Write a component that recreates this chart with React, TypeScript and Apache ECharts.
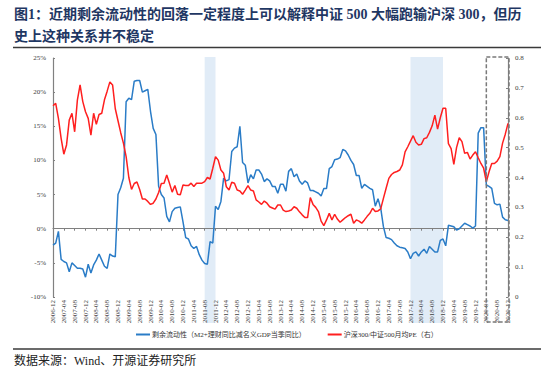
import React, { useEffect, useRef } from "react";
import * as echarts from "echarts";

// Monthly categories 2006-12 .. 2020-12
const months: string[] = [];
for (let y = 2006, m = 12; y < 2021; ) {
  months.push(`${y}-${String(m).padStart(2, "0")}`);
  m += 1;
  if (m > 12) { m = 1; y += 1; }
  if (y === 2021) break;
}

const seriesNames = [
  "剩余流动性（M2+理财同比减名义GDP当季同比）",
  "沪深300/中证500月均PE（右）",
];

// Excess liquidity, % (left axis)
const liquidity: number[] = [
  -2.4, -2.1, -0.4, -4.5, -4.8, -5.0, -6.3, -5.0, -5.4, -5.8,
  -5.8, -5.9, -7.1, -5.2, -6.5, -5.3, -4.6, -3.7, -4.6, -5.5,
  -5.8, -3.7, -4.0, -4.1, 5.0, 6.0, 7.4, 18.6, 19.1, 18.9,
  21.6, 21.7, 21.7, 20.0, 20.2, 20.4, 17.2, 14.7, 13.8, 6.2,
  5.0, 4.5, 1.8, 1.0, 2.5, 3.0, 3.1, 3.2, 1.0, -1.3,
  -1.5, -2.5, -2.9, -2.6, -3.8, -4.6, -5.1, -5.2, -1.9, -2.1,
  3.3, 2.8, 4.0, 7.4, 7.0, 7.2, 11.3, 11.8, 12.0, 15.0,
  9.7, 9.3, 6.7, 7.9, 7.3, 8.6, 8.6, 8.0, 6.9, 7.3,
  7.0, 6.2, 6.2, 5.2, 6.5, 6.5, 5.5, 8.4, 8.8, 7.6,
  8.0, 7.0, 6.5, 7.0, 6.7, 5.6, 5.6, 5.4, 5.2, 4.8,
  5.9, 5.9, 8.8, 9.1, 10.1, 10.2, 10.4, 11.6, 11.4, 10.8,
  10.0, 9.4, 7.8, 7.8, 5.9, 6.5, 6.2, 5.9, 5.7, 3.3,
  4.4, 3.0, 0.3, -1.3, -1.4, -1.6, -2.1, -2.5, -2.7, -2.8,
  -2.9, -3.4, -4.4, -3.6, -3.4, -4.0, -3.4, -3.0, -3.6, -2.6,
  -3.0, -3.4, -3.4, -1.7, -1.5, -2.5, 0.5, 0.4, 0.3, -0.2,
  0.0, 0.4, 0.8, 0.6, 0.4, 0.1, 0.4, 14.0, 14.8, 14.8,
  6.4, 6.2, 5.9, 3.7, 3.5, 3.6, 1.7, 1.3, 1.2,
];

// HS300 / CSI500 PE ratio (right axis)
const peRatio: number[] = [
  0.640, 0.648, 0.598, 0.531, 0.478, 0.509, 0.592, 0.615, 0.553, 0.659,
  0.710, 0.654, 0.620, 0.598, 0.542, 0.615, 0.578, 0.611, 0.615, 0.660,
  0.689, 0.720, 0.710, 0.630, 0.590, 0.550, 0.515, 0.470, 0.400, 0.360,
  0.380, 0.385, 0.360, 0.328, 0.328, 0.320, 0.310, 0.314, 0.328, 0.350,
  0.380, 0.381, 0.408, 0.381, 0.351, 0.373, 0.344, 0.342, 0.375, 0.373,
  0.373, 0.381, 0.370, 0.381, 0.381, 0.381, 0.386, 0.400, 0.395, 0.431,
  0.470, 0.458, 0.425, 0.414, 0.369, 0.358, 0.384, 0.381, 0.358, 0.355,
  0.344, 0.358, 0.373, 0.358, 0.355, 0.325, 0.318, 0.310, 0.321, 0.314,
  0.302, 0.298, 0.294, 0.308, 0.308, 0.291, 0.286, 0.288, 0.291, 0.302,
  0.297, 0.285, 0.275, 0.266, 0.266, 0.333, 0.310, 0.300, 0.286, 0.254,
  0.239, 0.258, 0.280, 0.258, 0.277, 0.261, 0.250, 0.258, 0.266, 0.272,
  0.277, 0.247, 0.258, 0.254, 0.247, 0.258, 0.270, 0.280, 0.297, 0.286,
  0.288, 0.295, 0.330, 0.364, 0.397, 0.410, 0.417, 0.420, 0.425, 0.442,
  0.486, 0.503, 0.522, 0.540, 0.518, 0.509, 0.511, 0.530, 0.533, 0.551,
  0.573, 0.609, 0.562, 0.600, 0.632, 0.632, 0.513, 0.497, 0.444, 0.500,
  0.533, 0.520, 0.481, 0.484, 0.462, 0.475, 0.486, 0.466, 0.447, 0.431,
  0.386, 0.419, 0.447, 0.447, 0.455, 0.470, 0.515, 0.545, 0.581,
];

const shadedRanges: [string, string][] = [
  ["2011-08", "2011-12"],
  ["2017-12", "2018-12"],
];
const boxRange: [string, string] = ["2020-04", "2020-12"];

const titleLines = [
  "图1：近期剩余流动性的回落一定程度上可以解释中证 500 大幅跑输沪深 300，但历",
  "史上这种关系并不稳定",
];
const sourceText = "数据来源：Wind、开源证券研究所";

const FONT = '"Liberation Serif", "Noto Sans CJK SC", serif';

export default function App() {
  const ref = useRef<HTMLDivElement>(null);
  useEffect(() => {
    if (!ref.current) return;
    const chart = echarts.init(ref.current, undefined, { renderer: "svg" });
    const axisColor = "#808080";
    const labelColor = "#404040";
    chart.setOption({
      animation: false,
      backgroundColor: "#ffffff",
      grid: { left: 53, right: 42, top: 58, bottom: 75, containLabel: false },
      legend: {
        left: 131,
        top: 326,
        itemWidth: 14,
        itemHeight: 2,
        itemGap: 22,
        icon: "rect",
        textStyle: { fontSize: 7, fontFamily: FONT, color: "#333", padding: [0, 0, 0, -3] },
        data: seriesNames,
      },
      xAxis: [
        {
          type: "category",
          data: months,
          boundaryGap: false,
          position: "bottom",
          axisLine: { show: false, onZero: false },
          axisTick: { show: false },
          axisLabel: {
            interval: 3,
            rotate: 90,
            fontSize: 7,
            fontFamily: FONT,
            color: labelColor,
            margin: 3,
          },
          z: 1,
        },
        {
          type: "category",
          data: months,
          boundaryGap: false,
          position: "bottom",
          axisLine: { show: true, onZero: true, onZeroAxisIndex: 0, lineStyle: { color: axisColor, width: 1.2 } },
          axisTick: { show: true, interval: 3, length: 2, lineStyle: { color: axisColor } },
          axisLabel: { show: false },
          z: 1,
        },
      ],
      yAxis: [
        {
          type: "value",
          min: -10,
          max: 25,
          interval: 5,
          axisLine: { show: true, lineStyle: { color: axisColor, width: 1.2 } },
          axisTick: { show: true, inside: true, length: 2, lineStyle: { color: axisColor } },
          splitLine: { show: false },
          axisLabel: { formatter: "{value}%", fontSize: 7, fontFamily: FONT, color: labelColor, margin: 7 },
          z: 1,
        },
        {
          type: "value",
          min: 0,
          max: 0.8,
          interval: 0.1,
          position: "right",
          axisLine: { show: true, lineStyle: { color: axisColor, width: 1.2 } },
          axisTick: { show: true, inside: true, length: 2, lineStyle: { color: axisColor } },
          splitLine: { show: false },
          axisLabel: {
            formatter: (v: number) => (v === 0 ? "0" : v.toFixed(1)),
            fontSize: 7,
            fontFamily: FONT,
            color: labelColor,
            margin: 7,
          },
          z: 1,
        },
      ],
      series: [
        {
          name: seriesNames[0],
          type: "line",
          data: liquidity,
          xAxisIndex: 0,
          yAxisIndex: 0,
          showSymbol: false,
          symbol: "none",
          lineStyle: { color: "#2a7cc7", width: 1.5 },
          itemStyle: { color: "#2a7cc7" },
          z: 3,
        },
        {
          name: seriesNames[1],
          type: "line",
          data: peRatio,
          xAxisIndex: 0,
          yAxisIndex: 1,
          showSymbol: false,
          symbol: "none",
          lineStyle: { color: "#ff1f1f", width: 1.5 },
          itemStyle: { color: "#ff1f1f" },
          z: 3,
        },
      ],
    });

    const px = (name: string) => chart.convertToPixel({ xAxisIndex: 0 }, months.indexOf(name)) as number;
    const top = chart.convertToPixel({ yAxisIndex: 0 }, 25) as number;
    const bottom = chart.convertToPixel({ yAxisIndex: 0 }, -10) as number;
    const shades = shadedRanges.map(([a, b]) => ({
      type: "rect",
      z: 0,
      silent: true,
      shape: { x: px(a), y: top - 1, width: px(b) - px(a), height: bottom - top + 27 },
      style: { fill: "#e1ecf7" },
    }));
    const bx1 = px(boxRange[0]);
    const bx2 = px(boxRange[1]);
    chart.setOption({
      graphic: [
        ...shades,
        {
          type: "rect",
          z: 10,
          silent: true,
          shape: { x: bx1, y: top - 1, width: bx2 - bx1 + 1, height: bottom - top + 26 },
          style: { fill: "none", stroke: "#7a7a7a", lineWidth: 1.5, lineDash: [4, 2] },
        },
        {
          type: "text",
          left: 14,
          top: 7,
          z: 10,
          style: { text: titleLines[0], font: `bold 14px ${FONT}`, fill: "#1f3763" },
        },
        {
          type: "text",
          left: 14,
          top: 29,
          z: 10,
          style: { text: titleLines[1], font: `bold 14px ${FONT}`, fill: "#1f3763" },
        },
        {
          type: "line",
          z: 10,
          shape: { x1: 13, y1: 47.5, x2: 541, y2: 47.5 },
          style: { stroke: "#3a3a3a", lineWidth: 1.5 },
        },
        {
          type: "line",
          z: 10,
          shape: { x1: 13, y1: 349, x2: 541, y2: 349 },
          style: { stroke: "#3a3a3a", lineWidth: 1.5 },
        },
        {
          type: "text",
          left: 14,
          top: 355,
          z: 10,
          style: { text: sourceText, font: `12px ${FONT}`, fill: "#222" },
        },
      ],
    });
    return () => chart.dispose();
  }, []);
  return <div ref={ref} style={{ position: "absolute", left: 0, top: 0, width: 550, height: 372 }} />;
}
